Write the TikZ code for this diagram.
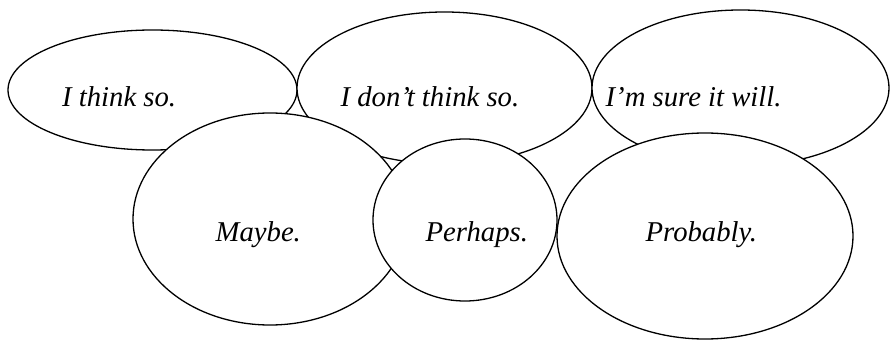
\documentclass[tikz,border=0pt]{standalone}
\usepackage{fontspec}
\setmainfont{Liberation Serif}
\usetikzlibrary{shapes.geometric}

\begin{document}
\begin{tikzpicture}[x=1pt, y=-1pt, line width=1.3pt,
  bubble/.style={ellipse, draw=black, fill=white, inner sep=0pt, outer sep=0pt},
  phrase/.style={anchor=base west, inner sep=0pt, font=\fontsize{28.7}{34}\selectfont\itshape}]
  \useasboundingbox (0,0) rectangle (892,342);
  % Bubbles, back to front
  \foreach \nm/\cx/\cy/\rx/\ry in {
    think/152.5/90/144.5/60,
    dont/444.5/88/147.5/76,
    sure/740.5/88/148.5/78,
    maybe/270/219/137/106,
    perhaps/465/220/92/81,
    probably/705/236/148/103} {
    \node[bubble, minimum width=2*\rx pt, minimum height=2*\ry pt] (\nm) at (\cx,\cy) {};
  }
  % Phrases
  \foreach \nm/\tx/\ty/\q in {
    think/61.5/106.7/{I think so.},
    dont/340/106.7/{I don't think so.},
    sure/605/106.7/{I'm sure it will.},
    maybe/215/241.7/{Maybe.},
    perhaps/425/241.7/{Perhaps.},
    probably/645/241.7/{Probably.}} {
    \node[phrase] (q\nm) at (\tx,\ty) {\q};
  }
\end{tikzpicture}
\end{document}
